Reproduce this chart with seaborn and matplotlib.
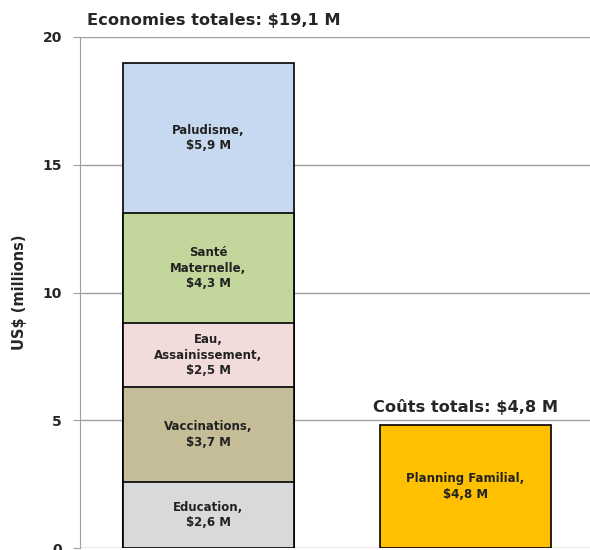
import numpy as np
import matplotlib
matplotlib.use("Agg")
import matplotlib.pyplot as plt
import seaborn as sns

# data
bar_names = ["Economies", "Coûts"]
savings_labels = ["Education,\n$2,6 M", "Vaccinations,\n$3,7 M", "Eau,\nAssainissement,\n$2,5 M",
                  "Santé\nMaternelle,\n$4,3 M", "Paludisme,\n$5,9 M"]
savings_values = [2.6, 3.7, 2.5, 4.3, 5.9]
savings_colors = ["#D9D9D9", "#C4BD97", "#F2DCDB", "#C3D69B", "#C6D9F1"]
cost_label = "Planning Familial,\n$4,8 M"
cost_value = 4.8
cost_color = "#FFC000"
savings_title = "Economies totales: $19,1 M"
cost_title = "Coûts totals: $4,8 M"

sns.set_style("white")
plt.rcParams["font.family"] = ["DejaVu Sans"]

fig = plt.figure(figsize=(5.9, 5.5), dpi=100)
ax = fig.add_axes([80 / 590, 2 / 550, 510 / 590, 511 / 550])

tops = np.cumsum(savings_values)
bottoms = tops - np.array(savings_values)

# stacked bar: draw cumulative heights from the tallest down
for i in reversed(range(len(savings_values))):
    sns.barplot(x=[bar_names[0]], y=[tops[i]], order=bar_names, color=savings_colors[i],
                saturation=1, width=0.665, edgecolor="black", linewidth=1.2, ax=ax, zorder=3)
sns.barplot(x=[bar_names[1]], y=[cost_value], order=bar_names, color=cost_color,
            saturation=1, width=0.665, edgecolor="black", linewidth=1.2, ax=ax, zorder=3)

for lab, b, v in zip(savings_labels, bottoms, savings_values):
    ax.text(0, b + v / 2, lab, ha="center", va="center", fontsize=8.5, fontweight="bold",
            color="#222222", zorder=4, linespacing=1.25)
ax.text(1, cost_value / 2, cost_label, ha="center", va="center", fontsize=8.5,
        fontweight="bold", color="#222222", zorder=4, linespacing=1.25)

ax.text(0.02, 20.65, savings_title, ha="center", va="center", fontsize=11.7,
        fontweight="bold", color="#262626", clip_on=False)
ax.text(1, 5.5, cost_title, ha="center", va="center", fontsize=11.7,
        fontweight="bold", color="#262626")

ax.set_ylim(0, 20)
ax.set_xlim(-0.5, 1.485)
ax.set_yticks([0, 5, 10, 15, 20])
ax.set_yticklabels(["0", "5", "10", "15", "20"], fontsize=10, fontweight="bold")
ax.set_xticks([])
ax.set_xlabel("")
ax.set_ylabel("US$ (millions)", fontsize=10.5, fontweight="bold", labelpad=11)
ax.yaxis.grid(True, color="#A0A0A0", linewidth=1, zorder=0)
ax.set_axisbelow(True)
for s in ["top", "right", "bottom"]:
    ax.spines[s].set_visible(False)
ax.spines["left"].set_color("#A0A0A0")
ax.tick_params(axis="y", length=5, color="#A0A0A0", left=True, pad=8)

fig.savefig("out.png", dpi=100)
